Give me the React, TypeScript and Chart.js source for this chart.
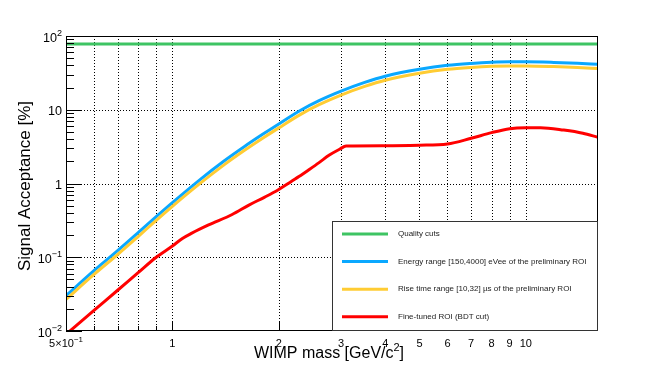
import React, { useEffect, useRef } from "react";
import { Chart, registerables } from "chart.js";

Chart.register(...registerables);

// ---------------- data ----------------
const massGrid = [0.5, 0.6, 0.7, 0.8, 0.9, 1.0, 1.2, 1.4, 1.6, 1.8, 2.0, 2.3, 2.6, 3.0, 3.5, 4, 5, 6, 7, 8, 9, 10, 12, 14, 16];
const energyRangeAcc = [0.0301, 0.0657, 0.1227, 0.215, 0.355, 0.55, 1.14, 2.02, 3.18, 4.64, 6.43, 9.78, 13.3, 17.9, 23.5, 28.5, 35.3, 40.0, 42.5, 44.0, 44.6, 44.6, 43.8, 42.6, 41.3];
const riseTimeAcc = [0.0268, 0.0586, 0.109, 0.191, 0.316, 0.49, 1.01, 1.79, 2.82, 4.11, 5.68, 8.6, 11.7, 15.8, 20.7, 25.1, 31.2, 35.3, 37.5, 38.8, 39.3, 39.3, 38.5, 37.4, 36.2];

const qualityMass = [0.5, 16];
const qualityAcc = [78, 78];

const roiMass = [0.5, 0.6, 0.7, 0.8, 0.9, 1.0, 1.07, 1.135, 1.266, 1.476, 1.646, 1.82, 1.99, 2.12, 2.28, 2.44, 2.6, 2.78, 2.98, 3.1, 4, 5, 6, 7, 8, 9, 10, 11, 12.8, 14.5, 16];
const roiAcc = [0.009, 0.019, 0.0357, 0.0618, 0.1, 0.142, 0.181, 0.212, 0.274, 0.38, 0.51, 0.65, 0.817, 0.99, 1.24, 1.55, 1.92, 2.43, 2.94, 3.22, 3.26, 3.31, 3.43, 4.1, 4.89, 5.53, 5.71, 5.72, 5.3, 4.8, 4.23];

const seriesLabels = [
  "Quality cuts",
  "Energy range [150,4000] eVee of the preliminary ROI",
  "Rise time range [10,32] \u00b5s of the preliminary ROI",
  "Fine-tuned ROI (BDT cut)",
];
const seriesColors = ["#3ec463", "#0aa8ff", "#ffcc33", "#ff0000"];

const xMin = 0.5;
const xMax = 16;
const yMin = 0.01;
const yMax = 100;

const xGridValues = [0.6, 0.7, 0.8, 0.9, 1, 2, 3, 4, 5, 6, 7, 8, 9, 10];
const xLabelValues = [0.5, 1, 2, 3, 4, 5, 6, 7, 8, 9, 10];
const xLabelTexts = ["5\u00d710^\u22121", "1", "2", "3", "4", "5", "6", "7", "8", "9", "10"];
const yGridValues = [0.1, 1, 10];
const yLabelValues = [0.01, 0.1, 1, 10, 100];
const yLabelTexts = ["10^\u22122", "10^\u22121", "1", "10", "10^2"];

const xTitle = ["WIMP mass [GeV/c", "2", "]"];
const yTitle = "Signal Acceptance [%]";

const FONT = '"Liberation Sans", Arial, Helvetica, sans-serif';

function drawSup(ctx: CanvasRenderingContext2D, text: string, x: number, y: number, size: number, align: string) {
  const parts = text.split("^");
  const base = parts[0];
  const sup = parts[1] || "";
  const supSize = size * 0.72;
  ctx.font = `${size}px ${FONT}`;
  const bw = ctx.measureText(base).width;
  ctx.font = `${supSize}px ${FONT}`;
  const sw = sup ? ctx.measureText(sup).width : 0;
  const total = bw + sw;
  const left = align === "right" ? x - total : align === "center" ? x - total / 2 : x;
  ctx.textAlign = "left";
  ctx.textBaseline = "alphabetic";
  ctx.font = `${size}px ${FONT}`;
  ctx.fillText(base, left, y);
  if (sup) {
    ctx.font = `${supSize}px ${FONT}`;
    ctx.fillText(sup, left + bw, y - size * 0.42);
  }
}

const rootPlugin = {
  id: "rootStyle",
  beforeDatasetsDraw(chart: any) {
    const { ctx, chartArea: a, scales } = chart;
    const xs = scales.x;
    const ys = scales.y;
    ctx.save();
    ctx.strokeStyle = "#000";
    ctx.lineWidth = 1;
    ctx.setLineDash([1, 2]);
    for (const v of xGridValues) {
      const px = Math.round(xs.getPixelForValue(v)) + 0.5;
      ctx.beginPath();
      ctx.moveTo(px, a.top);
      ctx.lineTo(px, a.bottom);
      ctx.stroke();
    }
    for (const v of yGridValues) {
      const py = Math.round(ys.getPixelForValue(v)) + 0.5;
      ctx.beginPath();
      ctx.moveTo(a.left, py);
      ctx.lineTo(a.right, py);
      ctx.stroke();
    }
    ctx.restore();
  },
  afterDatasetsDraw(chart: any) {
    const { ctx, chartArea: a, scales } = chart;
    const xs = scales.x;
    const ys = scales.y;
    ctx.save();
    ctx.setLineDash([]);
    ctx.strokeStyle = "#000";
    ctx.lineWidth = 1;

    // y ticks (major decades + minor 2..9)
    for (let k = -2; k <= 1; k++) {
      for (let m = 1; m <= 9; m++) {
        const v = m * Math.pow(10, k);
        const py = Math.round(ys.getPixelForValue(v)) + 0.5;
        const len = m === 1 ? 16 : 8;
        ctx.beginPath();
        ctx.moveTo(a.left, py);
        ctx.lineTo(a.left + len, py);
        ctx.stroke();
      }
    }
    // x ticks
    for (const v of xGridValues) {
      const px = Math.round(xs.getPixelForValue(v)) + 0.5;
      const len = v >= 1 ? 9 : 5;
      ctx.beginPath();
      ctx.moveTo(px, a.bottom);
      ctx.lineTo(px, a.bottom - len);
      ctx.stroke();
    }

    // frame
    ctx.strokeStyle = "#000";
    ctx.lineWidth = 1;
    ctx.strokeRect(Math.round(a.left) + 0.5, Math.round(a.top) + 0.5, Math.round(a.right - a.left) - 1, Math.round(a.bottom - a.top) - 1);

    // tick labels
    ctx.fillStyle = "#000";
    yLabelValues.forEach((v, i) => {
      const py = ys.getPixelForValue(v);
      drawSup(ctx, yLabelTexts[i], a.left - 4, py + 5.5, 12.6, "right");
    });
    xLabelValues.forEach((v, i) => {
      const px = xs.getPixelForValue(v);
      drawSup(ctx, xLabelTexts[i], px, a.bottom + 16, 11, "center");
    });

    // axis titles
    ctx.font = `16px ${FONT}`;
    const w0 = ctx.measureText(xTitle[0]).width;
    ctx.font = `11px ${FONT}`;
    const w1 = ctx.measureText(xTitle[1]).width;
    ctx.font = `16px ${FONT}`;
    const w2 = ctx.measureText(xTitle[2]).width;
    const tw = w0 + w1 + w2;
    const tx = 329 - tw / 2;
    const ty = 358;
    ctx.textAlign = "left";
    ctx.textBaseline = "alphabetic";
    ctx.fillText(xTitle[0], tx, ty);
    ctx.font = `11px ${FONT}`;
    ctx.fillText(xTitle[1], tx + w0, ty - 7);
    ctx.font = `16px ${FONT}`;
    ctx.fillText(xTitle[2], tx + w0 + w1, ty);

    ctx.save();
    ctx.translate(30, 186);
    ctx.rotate(-Math.PI / 2);
    ctx.font = `17px ${FONT}`;
    ctx.textAlign = "center";
    ctx.textBaseline = "alphabetic";
    ctx.fillText(yTitle, 0, 0);
    ctx.restore();

    // legend box
    const lx = 332;
    const ly = 221;
    const lw = 266;
    const lh = 110;
    ctx.fillStyle = "#fff";
    ctx.fillRect(lx, ly, lw, lh);
    ctx.strokeStyle = "#333";
    ctx.strokeRect(lx + 0.5, ly + 0.5, lw - 1, lh - 1);
    seriesLabels.forEach((lab, i) => {
      const cy = ly + 13 + i * 27.6;
      ctx.strokeStyle = seriesColors[i];
      ctx.lineWidth = 3;
      ctx.beginPath();
      ctx.moveTo(lx + 10, cy);
      ctx.lineTo(lx + 56, cy);
      ctx.stroke();
      ctx.fillStyle = "#222";
      ctx.font = `8px ${FONT}`;
      ctx.textAlign = "left";
      ctx.textBaseline = "middle";
      ctx.fillText(lab, lx + 66, cy);
    });
    ctx.restore();
  },
};

function pts(xs: number[], ys: number[]) {
  return xs.map((x, i) => ({ x, y: ys[i] }));
}

export default function App() {
  const ref = useRef<HTMLCanvasElement | null>(null);
  useEffect(() => {
    document.body.style.margin = "0";
    const canvas = ref.current;
    if (!canvas) return;
    const common = {
      borderWidth: 3,
      pointRadius: 0,
      fill: false,
      cubicInterpolationMode: "monotone" as const,
      borderJoinStyle: "round" as const,
      clip: 0,
    };
    const chart = new Chart(canvas, {
      type: "line",
      data: {
        datasets: [
          { ...common, label: seriesLabels[0], data: pts(qualityMass, qualityAcc), borderColor: seriesColors[0] },
          { ...common, label: seriesLabels[2], data: pts(massGrid, riseTimeAcc), borderColor: seriesColors[2] },
          { ...common, label: seriesLabels[1], data: pts(massGrid, energyRangeAcc), borderColor: seriesColors[1] },
          { ...common, label: seriesLabels[3], data: pts(roiMass, roiAcc), borderColor: seriesColors[3] },
        ],
      },
      options: {
        animation: false,
        responsive: false,
        devicePixelRatio: 1,
        layout: { padding: { left: 66, right: 66, top: 36, bottom: 37 } },
        scales: {
          x: { type: "logarithmic", min: xMin, max: xMax, display: false },
          y: { type: "logarithmic", min: yMin, max: yMax, display: false },
        },
        plugins: { legend: { display: false }, tooltip: { enabled: false } },
      },
      plugins: [rootPlugin],
    } as any);
    return () => chart.destroy();
  }, []);
  return (
    <div style={{ width: 664, height: 368, background: "#fff" }}>
      <canvas ref={ref} width={664} height={368} style={{ width: 664, height: 368, display: "block" }} />
    </div>
  );
}
